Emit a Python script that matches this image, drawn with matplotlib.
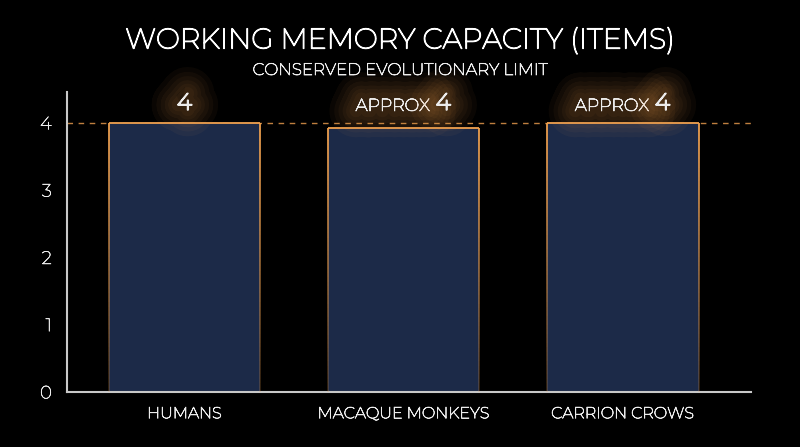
import matplotlib
matplotlib.use("Agg")
import matplotlib.pyplot as plt
import matplotlib.patheffects as pe
from matplotlib.collections import LineCollection
import numpy as np
from matplotlib import font_manager

categories = ["HUMANS", "MACAQUE MONKEYS", "CARRION CROWS"]
values = [4.0, 3.93, 4.0]
prefixes = ["", "APPROX", "APPROX"]
value_labels = ["4", "4", "4"]
limit = 4
yticks = [0, 1, 2, 3, 4]
title = "WORKING MEMORY CAPACITY (ITEMS)"
subtitle = "CONSERVED EVOLUTIONARY LIMIT"

names = {f.name for f in font_manager.fontManager.ttflist}
HAS_M = "Montserrat" in names
FONT = "Montserrat" if HAS_M else ("Lato" if "Lato" in names else "DejaVu Sans")
plt.rcParams["font.family"] = [FONT, "DejaVu Sans"]

BG = "#000000"
BAR = "#1c2a48"
ORANGE = "#f0a050"
TXT = "#ececec"


def thick(fs, color, w=0.045):
    # the installed Montserrat is the thin master; thicken strokes
    if not HAS_M:
        return [pe.Normal()]
    return [pe.withStroke(linewidth=fs * w, foreground=color), pe.Normal()]


fig = plt.figure(figsize=(8, 4.47), dpi=100, facecolor=BG)
ax = fig.add_axes([67/800, 1-392/447, (751-67)/800, (392-92)/447], facecolor=BG)

x = np.arange(len(categories))
bars = ax.bar(x, values, width=0.69, color=BAR, edgecolor="none", zorder=2)

# gradient outline: orange at top fading downward
for b in bars:
    x0, x1 = b.get_x(), b.get_x() + b.get_width()
    h = b.get_height()
    n = 60
    ys = np.linspace(0, h, n + 1)
    segs, cols = [], []
    for i in range(n):
        t = (ys[i] + ys[i+1]) / 2 / h
        a = 0.2 + 0.8 * t
        c = (0.94, 0.63, 0.31, a)
        segs.append([(x0, ys[i]), (x0, ys[i+1])]); cols.append(c)
        segs.append([(x1, ys[i]), (x1, ys[i+1])]); cols.append(c)
    segs.append([(x0, h), (x1, h)]); cols.append((0.94, 0.63, 0.31, 1.0))
    ax.add_collection(LineCollection(segs, colors=cols, linewidths=1.3, zorder=3))

ax.axhline(limit, color=ORANGE, lw=1.0, ls=(0, (4, 4)), alpha=0.8, zorder=1)

glow = [pe.withStroke(linewidth=w, foreground=ORANGE, alpha=0.045) for w in (38, 31, 25, 19, 14, 9)]
for xi, pre, lab in zip(x, prefixes, value_labels):
    if pre:
        ax.annotate(pre, (xi, limit), xytext=(26, 9), textcoords="offset pixels",
                    ha="right", va="bottom", fontsize=12.5, color=TXT,
                    path_effects=glow + thick(12.5, TXT), zorder=5)
        ax.annotate(lab, (xi, limit), xytext=(32, 8), textcoords="offset pixels",
                    ha="left", va="bottom", fontsize=17, color=TXT,
                    path_effects=glow + thick(17, TXT, 0.07), zorder=5)
    else:
        ax.annotate(lab, (xi, limit), xytext=(0, 8), textcoords="offset pixels",
                    ha="center", va="bottom", fontsize=17, color=TXT,
                    path_effects=glow + thick(17, TXT, 0.07), zorder=5)

ax.set_xlim(-0.536, 2.584)
ax.set_ylim(0, 4.46)
ax.set_yticks(yticks)
ax.set_yticklabels([str(t) for t in yticks])
ax.set_xticks(x)
ax.set_xticklabels(categories)
ax.tick_params(axis="both", length=0, colors=TXT, labelsize=11.5)
ax.tick_params(axis="y", pad=11, labelsize=13)
ax.tick_params(axis="x", pad=11)
for t in ax.get_xticklabels():
    t.set_path_effects(thick(11.5, TXT))
for t in ax.get_yticklabels():
    t.set_path_effects(thick(13, TXT, 0.03))
for s in ["top", "right"]:
    ax.spines[s].set_visible(False)
for s in ["left", "bottom"]:
    ax.spines[s].set_color("#c8c8c8")
    ax.spines[s].set_linewidth(1.5)

fig.text(0.5, 1-41/447, title, ha="center", va="center", fontsize=20.5, color="white",
         path_effects=thick(20.5, "white"))
fig.text(0.5, 1-70/447, subtitle, ha="center", va="center", fontsize=12, color=TXT,
         path_effects=thick(12, TXT))

fig.savefig("out.png", dpi=100, facecolor=BG)
